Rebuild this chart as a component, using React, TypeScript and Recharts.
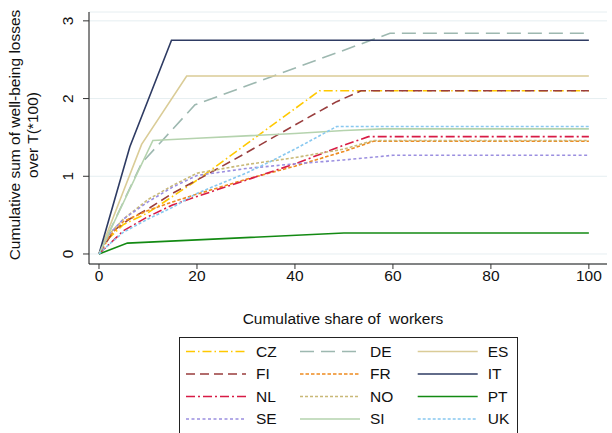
import React from 'react';
import { LineChart, Line, XAxis, YAxis, CartesianGrid, Legend, Label } from 'recharts';

// [cumulative share of workers, cumulative loss]
const CZ = [[0, 0], [2, 0.2], [5, 0.38], [10, 0.53], [15, 0.74], [20, 0.95], [30, 1.41], [40, 1.87], [45, 2.1], [100, 2.1]];
const DE = [[0, 0], [8.7, 1.17], [19.6, 1.92], [59.4, 2.84], [100, 2.84]];
const ES = [[0, 0], [8.7, 1.41], [17.9, 2.29], [100, 2.29]];
const FI = [[0, 0], [3, 0.3], [6, 0.44], [10, 0.58], [15, 0.78], [22, 1.02], [30, 1.3], [40, 1.66], [48.5, 1.96], [53.5, 2.1], [100, 2.1]];
const FR = [[0, 0], [2, 0.22], [5, 0.42], [10, 0.56], [15, 0.67], [20, 0.77], [30, 0.96], [40, 1.13], [50, 1.32], [56, 1.45], [100, 1.45]];
const IT = [[0, 0], [6.3, 1.38], [14.8, 2.75], [100, 2.75]];
const NL = [[0, 0], [2, 0.12], [5, 0.3], [10, 0.48], [15, 0.63], [20, 0.74], [30, 0.95], [40, 1.16], [50, 1.4], [55, 1.51], [100, 1.51]];
const NO = [[0, 0], [2, 0.25], [5, 0.45], [10, 0.7], [15, 0.88], [20, 1.04], [30, 1.15], [40, 1.24], [50, 1.35], [56, 1.46], [100, 1.46]];
const PT = [[0, 0], [5.8, 0.14], [50, 0.27], [100, 0.27]];
const SE = [[0, 0], [2, 0.25], [5, 0.45], [10, 0.67], [15, 0.86], [20, 1.01], [30, 1.1], [40, 1.16], [50, 1.21], [60, 1.27], [100, 1.27]];
const SI = [[0, 0], [11, 1.46], [20, 1.49], [30, 1.52], [40, 1.55], [50, 1.59], [58, 1.61], [100, 1.61]];
const UK = [[0, 0], [2, 0.12], [5, 0.28], [10, 0.45], [15, 0.6], [20, 0.78], [25, 0.91], [30, 1.04], [35, 1.19], [40, 1.35], [48.5, 1.64], [100, 1.64]];

const X_TICKS = [0, 20, 40, 60, 80, 100];
const Y_TICKS = [0, 1, 2, 3];

const FONT = '"Liberation Sans", Arial, sans-serif';

const SERIES = [
  { name: 'CZ', pts: CZ, color: '#FFC800', dash: '9 3 1.5 3' },
  { name: 'DE', pts: DE, color: '#9DB8B0', dash: '14 7' },
  { name: 'ES', pts: ES, color: '#DACC97', dash: undefined },
  { name: 'FI', pts: FI, color: '#993D3D', dash: '9 5' },
  { name: 'FR', pts: FR, color: '#EE8A1F', dash: '3.5 2' },
  { name: 'IT', pts: IT, color: '#2E3B63', dash: undefined },
  { name: 'NL', pts: NL, color: '#D81B45', dash: '9 3 2 3' },
  { name: 'NO', pts: NO, color: '#C9B977', dash: '3 2' },
  { name: 'PT', pts: PT, color: '#138A13', dash: undefined },
  { name: 'SE', pts: SE, color: '#9B8FE0', dash: '3 2.5' },
  { name: 'SI', pts: SI, color: '#B5D3AE', dash: undefined },
  { name: 'UK', pts: UK, color: '#88C8F0', dash: '3 2' },
];

const toRows = (pts: number[][]) => pts.map(([x, y]) => ({ x, y }));

const YTick = (props: any) => {
  const { x, y, payload } = props;
  return (
    <text x={x} y={y} transform={`rotate(-90 ${x} ${y})`} textAnchor="middle" dominantBaseline="central"
      fontFamily={FONT} fontSize={15.5} fill="#111">
      {payload.value}
    </text>
  );
};

const YTitle = (props: any) => {
  const vb = props.viewBox;
  const cy = vb.y + vb.height / 2 - 3;
  const line = (cx: number, s: string) => (
    <text x={cx} y={cy} transform={`rotate(-90 ${cx} ${cy})`} textAnchor="middle" dominantBaseline="central"
      fontFamily={FONT} fontSize={15.5} fill="#111">{s}</text>
  );
  return (
    <g>
      {line(vb.x - 45, 'Cumulative sum of well-being losses')}
      {line(vb.x - 27, 'over T(*100)')}
    </g>
  );
};

const XTitle = (props: any) => {
  const vb = props.viewBox;
  return (
    <text x={vb.x + vb.width / 2 - 5} y={vb.y + 59.5} textAnchor="middle" fontFamily={FONT} fontSize={15.5}
      fill="#111" style={{ whiteSpace: 'pre' }}>
      {'Cumulative share of  workers'}
    </text>
  );
};

const LegendBox = () => {
  const colX = [7, 121, 238.7];
  return (
    <svg width={340} height={100} style={{ display: 'block' }}>
      <rect x={0.5} y={0.5} width={338} height={110} fill="#fff" stroke="#222" strokeWidth={1} />
      {SERIES.map((s, i) => {
        const c = i % 3;
        const r = Math.floor(i / 3);
        const cy = 14.4 + 22.5 * r;
        const x0 = colX[c];
        return (
          <g key={s.name}>
            <line x1={x0} y1={cy} x2={x0 + 60} y2={cy} stroke={s.color} strokeWidth={1.5} strokeDasharray={s.dash} />
            <text x={x0 + 70} y={cy} dominantBaseline="central" fontFamily={FONT} fontSize={15.5} fill="#111">
              {s.name}
            </text>
          </g>
        );
      })}
    </svg>
  );
};

export default function App() {
  return (
    <div style={{ position: 'absolute', left: 0, top: 0, width: 612, height: 433, background: '#fff' }}>
      <LineChart width={612} height={433} margin={{ top: 12, right: 5, left: 59, bottom: 139 }}>
        <CartesianGrid horizontal vertical={false} stroke="#E6EEF1" strokeWidth={1} />
        <XAxis
          type="number"
          dataKey="x"
          domain={[-2.04, 103.7]}
          allowDataOverflow
          ticks={X_TICKS}
          height={30}
          tickSize={5}
          tickMargin={1}
          axisLine={{ stroke: '#111' }}
          tickLine={{ stroke: '#333' }}
          tick={{ fontFamily: FONT, fontSize: 15.5, fill: '#111' }}
        >
          <Label content={XTitle} />
        </XAxis>
        <YAxis
          type="number"
          dataKey="y"
          domain={[-0.129, 3.114]}
          allowDataOverflow
          ticks={Y_TICKS}
          width={30}
          tickSize={6}
          tickMargin={15}
          axisLine={{ stroke: '#111' }}
          tickLine={{ stroke: '#333' }}
          tick={YTick}
        >
          <Label content={YTitle} />
        </YAxis>
        {SERIES.map((s) => (
          <Line
            key={s.name}
            data={toRows(s.pts)}
            dataKey="y"
            name={s.name}
            type="linear"
            stroke={s.color}
            strokeWidth={1.6}
            strokeDasharray={s.dash}
            dot={false}
            activeDot={false}
            isAnimationActive={false}
          />
        ))}
        <Legend
          layout="vertical"
          align="center"
          verticalAlign="middle"
          content={LegendBox}
          wrapperStyle={{ position: 'absolute', left: 179, top: 337, width: 340, height: 100 }}
        />
      </LineChart>
    </div>
  );
}
